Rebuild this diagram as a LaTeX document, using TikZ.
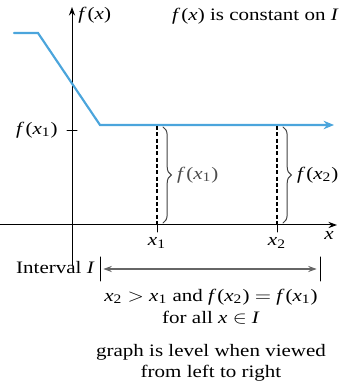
\documentclass[tikz,border=0pt]{standalone}
\usepackage[no-math]{fontspec}
\usepackage{mathptmx}
\setmainfont{Liberation Serif}
\usetikzlibrary{arrows.meta,decorations.pathreplacing}
\definecolor{curveblue}{RGB}{75,165,220}
\newcommand{\vf}{\textit{f\,}}
\newcommand{\vx}{\textit{x}}
\newcommand{\vI}{\textit{I}}

\begin{document}
\begin{tikzpicture}[x=0.6pt,y=0.6pt,>={Stealth[length=1.8mm,width=1.3mm]},line cap=round,
  lbl/.style={font=\fontsize{10.5}{12}\selectfont,xscale=1.2,inner sep=1pt},
  brc/.style={decorate,decoration={brace,amplitude=5pt},black!75,line width=0.6pt}]
\useasboundingbox (0,0) rectangle (351,385);
% axes
\coordinate (ybot) at (72,120);
\coordinate (ytop) at (72,378);
\coordinate (xleft) at (0,160);
\coordinate (xright) at (337,160);
\draw[->,line width=0.6pt] (ybot) -- (ytop);
\draw[->,line width=0.6pt] (xleft) -- (xright);
\node[lbl,anchor=west] (fx) at (76,370) {\vf(\vx)};
\node[lbl,anchor=east] (title) at (341,369) {\vf(\vx) is constant on \vI};
\node[lbl] (xlab) at (329,150) {\vx};
% the graph
\coordinate (c0) at (14,352);
\coordinate (c1) at (38,352);
\coordinate (c2) at (100,260);
\coordinate (c3) at (334,260);
\draw[curveblue,line width=1.3pt,->,>={Stealth[length=2.2mm,width=1.8mm]}] (c0) -- (c1) -- (c2) -- (c3);
% level f(x1)
\coordinate (tl) at (67,254);
\coordinate (tr) at (77,254);
\draw[line width=0.6pt] (tl) -- (tr);
\node[lbl,anchor=east] (fxone) at (60,255) {\vf(\vx\textsubscript{1})};
% x1 and x2
\coordinate (xa) at (157,160);
\coordinate (xatop) at (157,259);
\coordinate (xb) at (277,160);
\coordinate (xbtop) at (277,259);
\draw[line width=1.3pt,dash pattern=on 2.4pt off 1.4pt,line cap=butt] (xatop) -- (xa);
\draw[line width=1.3pt,dash pattern=on 2.4pt off 1.4pt,line cap=butt] (xbtop) -- (xb);
\draw[line width=0.6pt] (xa) -- ++(0,-7);
\draw[line width=0.6pt] (xb) -- ++(0,-7);
\node[lbl] (xonelab) at (157,142) {\vx\textsubscript{1}};
\node[lbl] (xtwolab) at (277,142) {\vx\textsubscript{2}};
% braces
\draw[brc] (163,258) -- (163,162) coordinate[midway,xshift=7pt] (ba);
\draw[brc] (283,258) -- (283,162) coordinate[midway,xshift=7pt] (bb);
\node[lbl,anchor=west,black!70] (fxa) at (ba) {\vf(\vx\textsubscript{1})};
\node[lbl,anchor=west] (fxb) at (bb) {\vf(\vx\textsubscript{2})};
% interval I
\coordinate (ia) at (100,128);
\coordinate (ib) at (320,128);
\draw[line width=0.6pt] (ia) -- ++(0,-24) coordinate[midway] (iam);
\draw[line width=0.6pt] (ib) -- ++(0,-24) coordinate[midway] (ibm);
\draw[<->,black!60,line width=0.8pt] ([xshift=2pt]iam) -- ([xshift=-2pt]ibm);
\node[lbl,anchor=east] (intv) at (97,117) {Interval \vI};
% text below
\node[lbl] (cond) at (211,88) {\vx\textsubscript{2} $>$ \vx\textsubscript{1} and \vf(\vx\textsubscript{2}) $=$ \vf(\vx\textsubscript{1})};
\node[lbl] (forall) at (211,67) {for all \vx\ $\in$ \vI};
\node[lbl] (level) at (211,33) {graph is level when viewed};
\node[lbl] (ltor) at (211,12) {from left to right};
\end{tikzpicture}
\end{document}
